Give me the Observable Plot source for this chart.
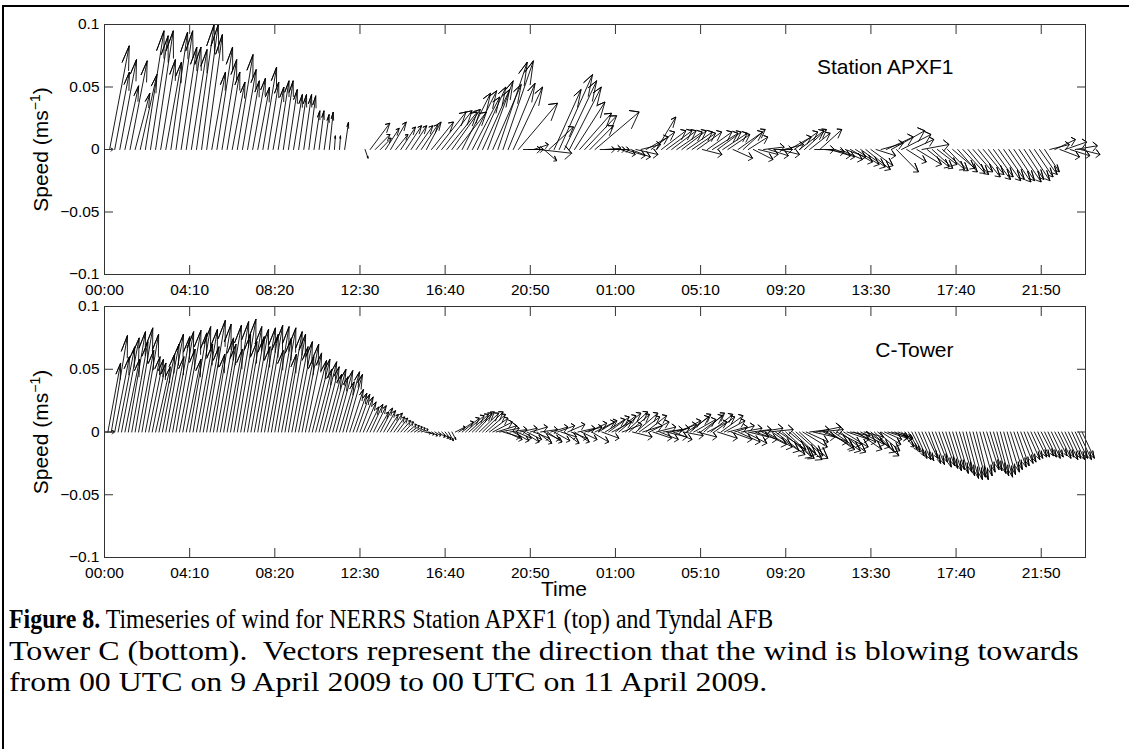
<!DOCTYPE html>
<html><head><meta charset="utf-8">
<script src="https://cdn.jsdelivr.net/npm/d3@7"></script>
<script src="https://cdn.jsdelivr.net/npm/@observablehq/plot@0.6"></script>
<style>
body{margin:0;background:#fff;}
#page{position:relative;width:1129px;height:749px;overflow:hidden;background:#fff;}
#border{position:absolute;left:2px;top:5px;width:1140px;height:760px;border-top:2px solid #000;border-left:2px solid #000;z-index:5;pointer-events:none;}
#p1{position:absolute;left:0;top:0;}
#p2{position:absolute;left:0;top:290px;}
#caption{position:absolute;left:9px;top:604px;font-family:"Liberation Serif","Times New Roman",serif;font-size:27px;line-height:31.5px;color:#000;}
#caption div{white-space:nowrap;transform-origin:0 50%;width:max-content;height:31.5px;}
#cap1{transform:scaleX(0.885);}
#cap2{transform:scaleX(1.184);}
#cap3{transform:scaleX(1.18);}
</style></head>
<body><div id="page"><div id="p1"></div><div id="p2"></div><div id="border"></div>
<div id="caption"><div id="cap1"><b>Figure 8.</b> Timeseries of wind for NERRS Station APXF1 (top) and Tyndal AFB</div><div id="cap2">Tower C (bottom).&nbsp; Vectors represent the direction that the wind is blowing towards</div><div id="cap3">from 00 UTC on 9 April 2009 to 00 UTC on 11 April 2009.</div></div></div>
<script>
// ---- axis ticks ----
const tickMinutes = [0,250,500,750,1000,1250,1500,1750,2000,2250,2500,2750];
const tickLabels = ["00:00","04:10","08:20","12:30","16:40","20:50","01:00","05:10","09:20","13:30","17:40","21:50"];
const speedTicks = [-0.1,-0.05,0,0.05,0.1];
const speedTickLabels = ["\u22120.1","\u22120.05","0","0.05","0.1"];

// ---- Station APXF1: 15-minute wind components (u east, v north) ----
const apxStepMinutes = 15;
const apxU = [
 0.017,0.040,0.030,0.034,0.028,0.035,0.030,0.034,0.038,0.036,
 0.036,0.030,0.032,0.034,0.034,0.032,0.030,0.032,0.036,0.034,
 0.032,0.028,0.032,0.030,0.026,0.026,0.032,0.028,0.024,0.026,
 0.024,0.028,0.022,0.022,0.022,0.020,0.018,0.018,0.016,0.016,
 0.014,0.012,0.010,0.010,0.008,0.002,0.002,0.008,null,null,
 null,0.006,0.040,0.030,0.022,0.028,0.032,0.025,0.030,0.032,
 0.032,0.034,0.034,0.030,0.045,0.060,0.062,0.062,0.058,0.060,
 0.058,0.060,0.056,0.058,0.055,0.052,0.058,0.060,0.062,0.055,
 0.060,0.080,0.035,0.030,0.030,0.067,0.026,0.050,0.055,0.068,
 0.066,0.065,0.062,0.065,0.065,0.048,0.090,0.030,0.032,0.030,
 0.028,0.030,0.040,0.040,0.045,0.040,0.045,0.048,0.040,0.050,
 0.052,0.050,0.052,0.050,0.052,0.048,0.050,0.040,0.050,0.052,
 0.048,0.050,0.045,0.040,0.050,0.045,0.040,0.040,0.040,0.042,
 0.040,0.038,0.042,0.040,0.045,0.048,0.050,0.045,0.042,0.040,
 0.045,0.040,0.042,0.040,0.045,0.042,0.045,0.048,0.050,0.050,
 0.045,0.040,0.045,0.055,0.068,0.045,0.060,0.040,0.045,0.050,
 0.055,0.045,0.042,0.040,0.045,0.042,0.045,0.040,0.045,0.042,
 0.040,0.045,0.042,0.045,0.040,0.045,0.042,0.045,0.042,0.045,
 0.040,0.042,0.038,0.036,0.030,0.040,0.042,0.040,0.044,0.040,
 0.045,0.040];
const apxV = [
 0,0.083,0.062,0.072,0.051,0.071,0.045,0.060,0.095,0.091,
 0.095,0.072,0.070,0.094,0.095,0.082,0.082,0.080,0.100,0.100,
 0.092,0.062,0.082,0.072,0.062,0.054,0.076,0.064,0.055,0.057,
 0.050,0.066,0.054,0.050,0.055,0.055,0.048,0.044,0.044,0.044,
 0.043,0.031,0.031,0.028,0.030,0.011,0.011,0.022,null,null,
 null,-0.007,0.021,0.012,0.009,0.017,0.022,0.012,0.018,0.019,
 0.019,0.019,0.020,0.022,0.022,0.030,0.031,0.030,0.032,0.030,
 0.045,0.047,0.042,0.050,0.048,0.055,0.052,0.070,0.071,0.053,
 0.050,0.037,0.000,0.000,0.004,-0.003,-0.009,0.018,0.048,0.060,
 0.055,0.050,0.038,0.029,0.027,0.019,0.030,0.000,0.001,0.000,
 0.000,-0.004,-0.005,-0.006,-0.004,0.004,0.010,0.014,0.026,0.015,
 0.015,0.015,0.014,0.015,0.014,0.013,0.014,-0.004,0.014,0.013,
 0.014,0.013,0.012,-0.007,0.014,0.016,0.010,-0.008,-0.004,0.002,
 -0.005,0.000,-0.004,0.004,0.010,0.014,0.015,0.016,0.013,0.000,
 0.016,-0.002,-0.005,-0.006,-0.008,-0.006,-0.010,-0.012,-0.014,-0.016,
 -0.013,-0.005,0.005,0.010,0.015,-0.018,0.012,-0.010,0.008,-0.012,
 0.004,-0.014,-0.015,-0.012,-0.016,-0.017,-0.015,-0.018,-0.019,-0.020,
 -0.018,-0.022,-0.020,-0.024,-0.022,-0.025,-0.024,-0.026,-0.025,-0.026,
 -0.024,-0.025,-0.022,-0.020,-0.018,0.004,0.008,-0.006,0.006,-0.005,
 0.003,-0.004];

// ---- C-Tower: 10-minute wind components ----
const ctStepMinutes = 10;
const ctU = [
 0.020,0.026,0.033,0.030,0.034,0.036,0.030,0.035,0.033,0.036,
 0.031,0.034,0.030,0.030,0.028,0.030,0.032,0.034,0.036,0.030,
 0.035,0.036,0.032,0.037,0.030,0.035,0.036,0.033,0.036,0.032,
 0.038,0.030,0.036,0.034,0.032,0.036,0.031,0.037,0.034,0.038,
 0.033,0.036,0.034,0.036,0.032,0.036,0.035,0.037,0.031,0.036,
 0.034,0.036,0.030,0.035,0.035,0.033,0.035,0.031,0.034,0.033,
 0.036,0.036,0.033,0.036,0.034,0.032,0.034,0.031,0.034,0.030,
 0.034,0.033,0.028,0.028,0.027,0.027,0.026,0.025,0.026,0.026,
 0.024,0.025,0.024,0.023,0.024,0.022,0.021,0.020,0.019,0.018,
 0.017,0.016,0.015,0.014,0.012,0.012,0.012,0.012,0.014,0.014,
 0.012,0.010,0.008,0.020,0.030,0.035,0.038,0.040,0.040,0.038,
 0.040,0.042,0.040,0.038,0.040,0.042,0.040,0.035,0.032,0.035,
 0.032,0.030,0.035,0.032,0.030,0.035,0.032,0.030,0.035,0.032,
 0.030,0.035,0.032,0.035,0.032,0.030,0.035,0.032,0.030,0.035,
 0.032,0.035,0.038,0.035,0.040,0.038,0.035,0.040,0.042,0.040,
 0.042,0.045,0.040,0.045,0.042,0.040,0.045,0.042,0.040,0.042,
 0.040,0.038,0.040,0.038,0.040,0.042,0.040,0.038,0.040,0.042,
 0.040,0.045,0.042,0.045,0.040,0.045,0.042,0.040,0.045,0.042,
 0.040,0.045,0.042,0.040,0.042,0.040,0.045,0.042,0.045,0.042,
 0.040,0.045,0.050,0.050,0.055,0.050,0.055,0.060,0.055,0.060,
 0.058,0.055,0.060,0.055,0.058,0.050,0.045,0.040,0.045,0.050,
 0.048,0.050,0.055,0.050,0.055,0.050,0.052,0.050,0.045,0.040,
 0.045,0.050,0.048,0.040,0.045,0.048,0.050,0.045,0.040,0.035,
 0.040,0.035,0.035,0.030,0.025,0.025,0.024,0.025,0.024,0.025,
 0.024,0.025,0.024,0.025,0.024,0.025,0.025,0.024,0.025,0.024,
 0.025,0.025,0.024,0.025,0.026,0.025,0.024,0.025,0.024,0.025,
 0.024,0.025,0.024,0.025,0.024,0.025,0.024,0.025,0.024,0.025,
 0.024,0.025,0.024,0.025,0.024,0.025,0.024,0.025,0.024,0.025,
 0.026,0.025,0.026,0.025,0.026,0.025,0.026,0.025];
const ctV = [
 0,0.055,0.077,0.060,0.068,0.075,0.058,0.080,0.072,0.083,
 0.065,0.078,0.060,0.058,0.055,0.052,0.062,0.070,0.078,0.060,
 0.076,0.080,0.066,0.081,0.058,0.079,0.084,0.070,0.082,0.068,
 0.089,0.062,0.086,0.075,0.070,0.085,0.066,0.088,0.078,0.090,
 0.072,0.084,0.076,0.082,0.068,0.083,0.078,0.085,0.065,0.084,
 0.075,0.083,0.062,0.080,0.078,0.068,0.072,0.060,0.070,0.063,
 0.057,0.058,0.050,0.056,0.052,0.046,0.050,0.044,0.049,0.040,
 0.048,0.046,0.034,0.031,0.030,0.028,0.024,0.020,0.022,0.021,
 0.016,0.019,0.017,0.014,0.015,0.012,0.011,0.009,0.008,0.006,
 0.005,0.004,0.003,0.002,-0.001,-0.002,-0.003,-0.003,-0.004,-0.005,
 -0.006,-0.007,-0.006,0.004,0.008,0.011,0.013,0.014,0.015,0.016,
 0.015,0.016,0.014,0.011,0.008,0.005,0.003,-0.004,-0.006,0.002,
 -0.007,-0.005,0.003,-0.008,-0.006,0.004,-0.005,-0.009,0.002,-0.006,
 -0.008,0.004,-0.007,0.005,-0.004,-0.009,0.006,-0.005,-0.008,0.003,
 -0.006,0.004,0.007,-0.008,0.008,0.009,-0.005,0.010,0.012,0.008,
 0.013,0.015,0.006,0.016,0.014,-0.004,0.015,0.012,0.005,0.013,
 0.008,-0.005,0.004,-0.006,0.002,-0.004,0.003,-0.006,0.006,0.009,
 -0.003,0.012,0.014,0.010,-0.004,0.013,0.015,0.008,0.014,0.012,
 -0.005,0.013,0.009,0.004,-0.006,0.005,-0.008,0.003,-0.009,-0.004,
 0.002,-0.006,0.003,-0.010,-0.012,0.002,-0.015,-0.018,-0.014,-0.020,
 -0.021,-0.018,-0.022,-0.019,-0.021,-0.012,-0.008,0.002,-0.004,0.004,
 0.002,-0.008,-0.012,-0.014,-0.015,-0.010,-0.016,-0.012,-0.006,-0.003,
 -0.008,-0.014,-0.010,-0.004,-0.012,-0.016,-0.019,-0.015,-0.010,-0.006,
 -0.005,-0.004,-0.006,-0.005,-0.012,-0.014,-0.016,-0.019,-0.021,-0.022,
 -0.023,-0.021,-0.025,-0.026,-0.024,-0.028,-0.027,-0.029,-0.031,-0.030,
 -0.033,-0.032,-0.035,-0.037,-0.038,-0.036,-0.038,-0.035,-0.032,-0.030,
 -0.031,-0.033,-0.035,-0.036,-0.034,-0.032,-0.030,-0.028,-0.027,-0.025,
 -0.024,-0.022,-0.021,-0.020,-0.020,-0.019,-0.020,-0.021,-0.020,-0.019,
 -0.021,-0.020,-0.022,-0.021,-0.022,-0.021,-0.022,-0.021];

// ---- helpers ----
const MIN_PER_DAY = 1440;
const tickDays = tickMinutes.map(m => m / MIN_PER_DAY);
const xLabelOf = new Map(tickDays.map((d, i) => [d, tickLabels[i]]));
const yLabelOf = new Map(speedTicks.map((d, i) => [d, speedTickLabels[i]]));
// MATLAB feather arrow template (complex multiply by u+iv)
const arrowShape = [[0,0],[1,0],[0.8,0.08],[1,0],[0.8,-0.08]];

function featherPaths(stepMin, U, V) {
  const pts = [];
  U.forEach((u, i) => {
    const v = V[i];
    if (u == null || v == null) return;
    const t = i * stepMin / MIN_PER_DAY;
    for (const [a, b] of arrowShape) pts.push({id: i, x: t + a * u - b * v, y: a * v + b * u});
  });
  return pts;
}

const FONT = '"Liberation Sans", Arial, Helvetica, sans-serif';
const AX = "#333";

function panel({U, V, step, name, nameDy, height, marginTop, marginBottom, extra = []}) {
  return Plot.plot({
    width: 1129, height, marginLeft: 104, marginRight: 44, marginTop, marginBottom,
    style: {fontFamily: FONT, fontSize: "15.5px", color: "#000", background: "transparent", overflow: "visible"},
    x: {domain: [0, 2], axis: null},
    y: {domain: [-0.1, 0.1], axis: null},
    marks: [
      Plot.line(featherPaths(step, U, V), {x: "x", y: "y", z: "id", stroke: "#000", strokeWidth: 0.9, curve: "linear"}),
      Plot.frame({stroke: AX}),
      Plot.axisX(tickDays, {anchor: "bottom", tickSize: -9, tickFormat: () => "", stroke: AX, label: null}),
      Plot.axisX(tickDays, {anchor: "top", tickSize: -9, tickFormat: () => "", stroke: AX, label: null}),
      Plot.axisX(tickDays, {anchor: "bottom", tickSize: 0, tickPadding: 9, tickFormat: d => xLabelOf.get(d), fontSize: 15.5, label: null}),
      Plot.axisY(speedTicks, {anchor: "left", tickSize: -9, tickFormat: () => "", stroke: AX, label: null}),
      Plot.axisY(speedTicks, {anchor: "right", tickSize: -9, tickFormat: () => "", stroke: AX, label: null}),
      Plot.axisY(speedTicks, {anchor: "left", tickSize: 0, tickPadding: 5, tickFormat: d => yLabelOf.get(d), fontSize: 15.5, label: null}),
      Plot.text([name], {frameAnchor: "top-right", dx: -132, dy: nameDy, textAnchor: "end", fontSize: 21}),
      Plot.text(["Speed (ms"], {frameAnchor: "left", rotate: -90, dx: -63, fontSize: 21, textAnchor: "middle"}),
      ...extra
    ]
  });
}

function addSuperscript(svg) {
  d3.select(svg).selectAll("text")
    .filter(function () { return this.textContent === "Speed (ms"; })
    .each(function () {
      const t = d3.select(this);
      t.append("tspan").attr("dy", -8).attr("font-size", 14).text("\u22121");
      t.append("tspan").attr("dy", 8).text(")");
    });
}

const svg1 = panel({U: apxU, V: apxV, step: apxStepMinutes, name: "Station APXF1", nameDy: 35, height: 290, marginTop: 24, marginBottom: 16});
const svg2 = panel({U: ctU, V: ctV, step: ctStepMinutes, name: "C-Tower", nameDy: 36, height: 320, marginTop: 16, marginBottom: 53,
  extra: [Plot.text(["Time"], {frameAnchor: "bottom", dx: -31, dy: 38, fontSize: 21})]});
addSuperscript(svg1);
addSuperscript(svg2);
document.getElementById("p1").appendChild(svg1);
document.getElementById("p2").appendChild(svg2);
</script>
</body></html>
